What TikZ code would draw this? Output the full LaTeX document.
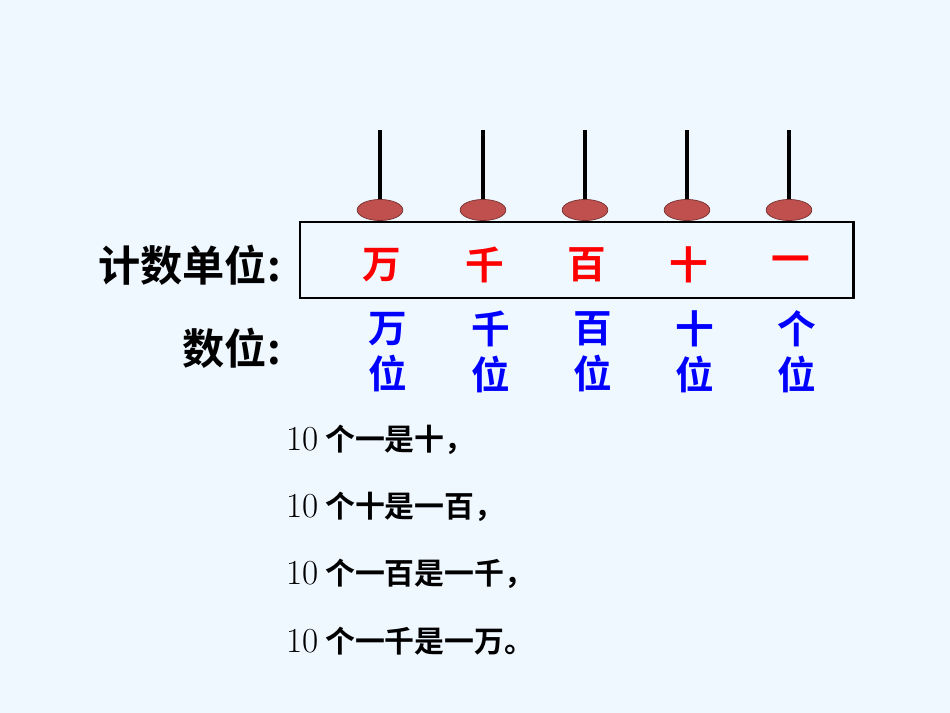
\documentclass[tikz,border=0pt]{standalone}
\usepackage{fontspec}
\newfontfamily\cjk{Noto Sans CJK SC}
\newfontfamily\cjkb{Noto Sans CJK SC Bold}
\usetikzlibrary{positioning,shapes.geometric}
\definecolor{bg}{HTML}{F0F8FF}
\definecolor{bead}{HTML}{C0504D}
\tikzset{
  rod/.style={line width=2pt},
  beadshape/.style={draw=bead!60!black,fill=bead,ellipse,minimum width=26pt,minimum height=12pt,inner sep=0pt},
  unit/.style={text=red,font=\cjkb\fontsize{22}{22}\selectfont},
  place/.style={text=blue,font=\cjkb\fontsize{22}{26}\selectfont,align=center},
  caption/.style={font=\cjkb\fontsize{24}{24}\selectfont},
  fact/.style={anchor=west,font=\fontsize{17}{17}\selectfont\cjkb}
}
\begin{document}
\begin{tikzpicture}[x=0.02cm,y=-0.02cm]
  \fill[bg] (0,0) rectangle (950,713);
  \node (frame) [draw,line width=1.7pt,minimum width=553*0.02cm,minimum height=76*0.02cm] at (576.5,260) {};
  \foreach \n/\x/\u/\p in {wan/380/万/万, qian/483/千/千, bai/585/百/百, shi/687/十/十, ge/789/一/个}{
    \coordinate (top\n) at (\x,130);
    \node (bead\n) [beadshape] at (\x,210) {};
    \draw[rod] (top\n) -- (bead\n.north);
    \node (unit\n) [unit] at (\x+2,265) {\u};
    \node (place\n) [place] at (\x+8,352) {\p\\位};
  }
  \node (unitlabel) [caption,anchor=east] at (287,265) {计数单位:};
  \node (placelabel) [caption,anchor=east] at (287,348) {数位:};
  \node (factA) [fact] at (280,440) {{\rmfamily\fontsize{20}{20}\selectfont 10} 个一是十，};
  \node (factB) [fact] at (280,507) {{\rmfamily\fontsize{20}{20}\selectfont 10} 个十是一百，};
  \node (factC) [fact] at (280,574) {{\rmfamily\fontsize{20}{20}\selectfont 10} 个一百是一千，};
  \node (factD) [fact] at (280,641) {{\rmfamily\fontsize{20}{20}\selectfont 10} 个一千是一万。};
\end{tikzpicture}
\end{document}
